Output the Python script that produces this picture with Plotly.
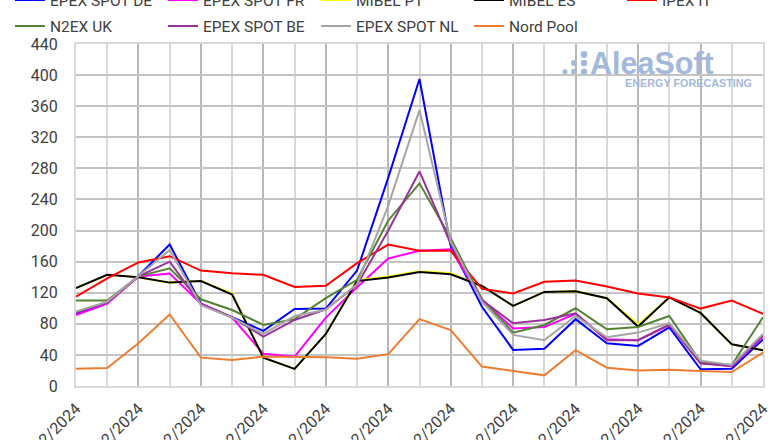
import plotly.graph_objects as go
import pandas as pd

dates = pd.date_range("2024-12-01", "2024-12-23", freq="D")

epex_de = [93.6, 107, 141.6, 182, 106, 88, 71, 99, 99.6, 148.5, 268, 395, 180, 102, 46.4, 48, 86, 55, 51.5, 75.5, 21.5, 22.3, 60]
epex_fr = [91.4, 106, 141, 144.6, 106, 88, 41.6, 37.8, 88, 127, 164, 174, 176, 110.7, 74, 76, 92.7, 60, 59, 78.5, 30, 25, 63.5]
mibel_pt = [126, 143, 140, 133, 135.5, 119, 36.5, 22, 67, 136, 141, 147.5, 145, 128.7, 103, 121, 122, 113, 79, 114, 94, 53.6, 46]
mibel_es = [126, 143, 140, 133, 135, 117.6, 36.5, 22, 67, 135, 139.5, 146.8, 143.8, 128.7, 103, 121, 122, 113, 76.5, 114, 94, 53.6, 46]
ipex_it = [115, 138.6, 159, 167, 148.5, 145, 143, 127.5, 129, 158, 182, 174, 174, 125, 119, 134, 135.6, 128, 119, 114, 99.6, 110, 92.7]
n2ex_uk = [110, 110, 141, 151.5, 111.6, 97.8, 78.5, 86, 113, 136.5, 213, 260.7, 190, 111.6, 68.7, 78.5, 100, 73, 76, 90, 31, 27, 88.4]
epex_be = [94.4, 107.7, 141, 160, 105, 88.4, 63.5, 85, 98.7, 130, 200, 276, 183, 110.7, 80.7, 85, 93.6, 59, 59, 79, 29, 25.7, 65]
epex_nl = [95.7, 108.6, 141.6, 175, 104, 88, 67, 90, 98, 131, 232, 355, 186, 108.6, 65.7, 59, 90, 62.7, 68.7, 80.7, 32.6, 27, 67]
nord_pool = [22.3, 23, 55, 92, 36.5, 33.5, 37.8, 37.8, 37, 35, 41, 86, 72, 25, 19, 13.7, 46, 23.6, 20, 21, 19.3, 18, 43]

series = [
    ("EPEX SPOT DE", epex_de, "#0000FF", "legend"),
    ("EPEX SPOT FR", epex_fr, "#FF00FF", "legend"),
    ("MIBEL PT", mibel_pt, "#FFFF00", "legend"),
    ("MIBEL ES", mibel_es, "#000000", "legend"),
    ("IPEX IT", ipex_it, "#FF0000", "legend3"),
    ("N2EX UK", n2ex_uk, "#548235", "legend2"),
    ("EPEX SPOT BE", epex_be, "#993399", "legend2"),
    ("EPEX SPOT NL", epex_nl, "#A6A6A6", "legend2"),
    ("Nord Pool", nord_pool, "#ED7D31", "legend2"),
]

FONT = "Roboto, Arial, sans-serif"
TXT = "#404040"

fig = go.Figure()
for name, vals, color, leg in series:
    fig.add_trace(go.Scatter(x=dates, y=vals, mode="lines", name=name,
                             line=dict(color=color, width=2), legend=leg))

# body margin is removed by post_script, so figure pixels == screen pixels
W, H = 780, 440
L, T = 76, 44
R = W - 763
B = H - 386
pw, ph = W - L - R, H - T - B

def px(x):
    return (x - L) / pw

def py(y):
    return (H - B - y) / ph

LEGFONT = dict(family=FONT, size=15.5, color=TXT)
common = dict(orientation="h", xanchor="left", yanchor="middle",
              entrywidth=108, entrywidthmode="pixels", font=LEGFONT, bgcolor="rgba(0,0,0,0)")

fig.update_layout(
    width=W, height=H,
    margin=dict(l=L, r=R, t=T, b=B, autoexpand=False),
    plot_bgcolor="white", paper_bgcolor="white",
    font=dict(family=FONT, color=TXT, size=16),
    legend=dict(x=px(10), y=py(0.5), **common),
    legend3=dict(x=px(10 + 4 * 153), y=py(0.5), **common),
    legend2=dict(x=px(10), y=py(26.5), **common),
    showlegend=True,
)

fig.update_xaxes(
    range=[dates[0], dates[-1]],
    tickmode="linear", tick0=dates[0], dtick=2 * 86400000,
    tickformat="%d/%m/%Y", tickangle=-45,
    showgrid=True, gridcolor="#B8B8B8", gridwidth=1.5,
    minor=dict(dtick=86400000, tick0=dates[0], showgrid=True, gridcolor="#D9D9D9", gridwidth=1.5),
    showline=True, linecolor="#D9D9D9", linewidth=2, mirror=True,
    ticks="outside", ticklen=5, tickcolor="rgba(0,0,0,0)",
    tickfont=dict(family=FONT, size=16, color=TXT),
    zeroline=False,
)
fig.update_yaxes(
    range=[0, 440], tickmode="linear", tick0=0, dtick=40,
    showgrid=True, gridcolor="#C4C4C4", gridwidth=1.5,
    showline=True, linecolor="#D9D9D9", linewidth=2, mirror=True,
    ticks="outside", ticklen=13, tickcolor="rgba(0,0,0,0)",
    tickfont=dict(family=FONT, size=16, color=TXT),
    zeroline=False,
)

LOGO = "#A3B9DC"
fig.add_annotation(xref="paper", yref="paper", x=px(588), y=py(63), xanchor="left", yanchor="middle",
                   text="<b>AleaSoft</b>", showarrow=False,
                   font=dict(family="Liberation Sans, Arial, sans-serif", size=30.5, color=LOGO))
fig.add_annotation(xref="paper", yref="paper", x=px(623), y=py(82.5), xanchor="left", yanchor="middle",
                   text="<b>ENERGY FORECASTING</b>", showarrow=False,
                   font=dict(family="Liberation Sans, Arial, sans-serif", size=10.8, color=LOGO))
dots = [(565, 71.7, 2.5), (574, 71.7, 3), (584, 71.7, 3.2), (574, 63, 3), (584, 63, 3.2), (584, 54.5, 3.4)]
for dx, dy, r in dots:
    fig.add_shape(type="circle", xref="paper", yref="paper", xsizemode="pixel", ysizemode="pixel",
                  xanchor=px(dx), yanchor=py(dy), x0=-r, x1=r, y0=-r, y1=r,
                  fillcolor=LOGO, line=dict(width=0), layer="below")

fig.write_html("out.html", config={"displayModeBar": False},
               post_script="document.body.style.margin='0px';")
